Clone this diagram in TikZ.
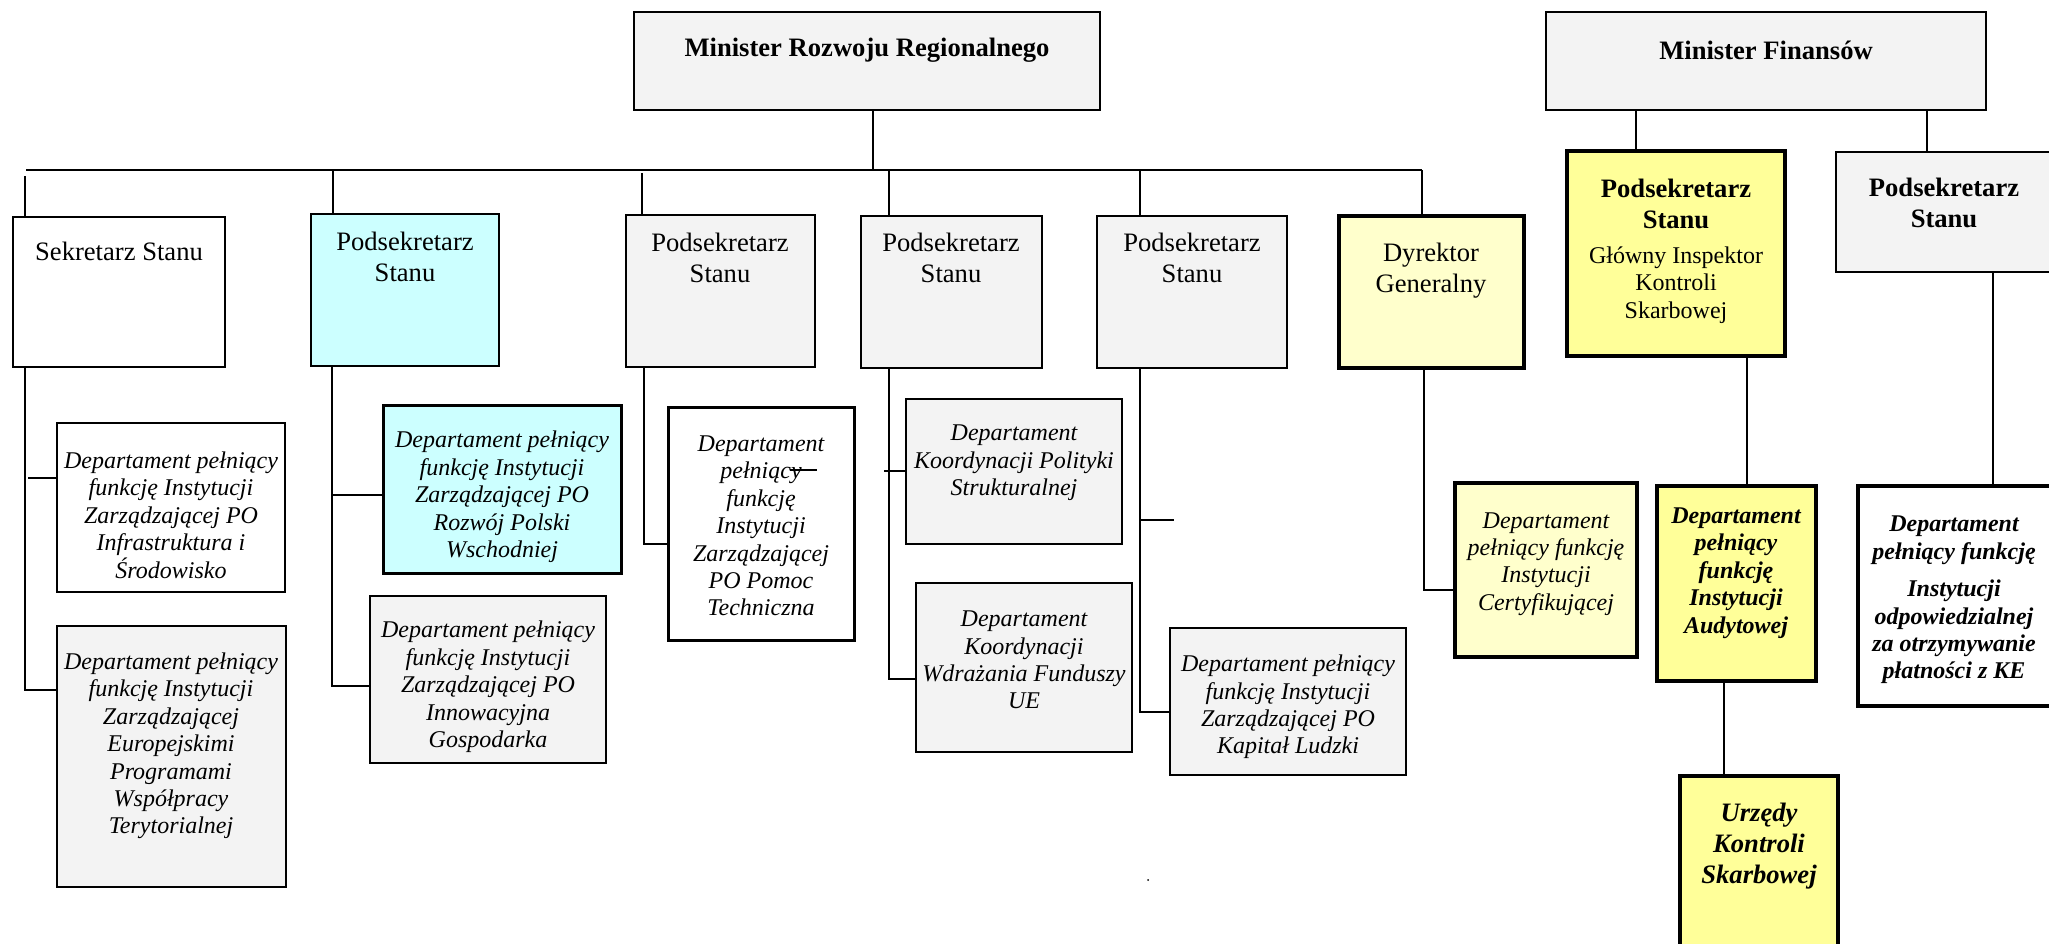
\documentclass[tikz,border=0pt]{standalone}
\usepackage{fontspec}
\setmainfont{Liberation Serif}
\usetikzlibrary{fit}
\definecolor{gfill}{RGB}{243,243,243}
\definecolor{cyanfill}{RGB}{204,255,255}
\definecolor{lyel}{RGB}{255,255,204}
\definecolor{yel}{RGB}{255,255,153}
\newcommand\fbig{\fontsize{13.3}{15.5}\selectfont}
\newcommand\fsm{\fontsize{12}{13.7}\selectfont}
\begin{document}
\begin{tikzpicture}[x=0.5pt,y=-0.5pt,
  box/.style={draw, line width=1.1pt, inner sep=0pt, outer sep=0pt},
  thickbox/.style={box, line width=2.3pt},
  midbox/.style={box, line width=1.5pt},
  txt/.style={align=center, inner sep=0pt},
  conn/.style={line width=1pt},
]
\useasboundingbox (0,0) rectangle (2049,943);
\clip (0,0) rectangle (2049,943);
\fill[white] (0,0) rectangle (2049,943);

% ---- boxes ----
\node[box, fill=gfill, fit={(634,12) (1100,110)}] (mrr) {};
\node[box, fill=gfill, fit={(1546,12) (1986,110)}] (mf) {};
\node[box, fill=white, fit={(13,217) (225,367)}] (sek) {};
\node[box, fill=cyanfill, fit={(311,214) (499,366)}] (ps1) {};
\node[box, fill=gfill, fit={(626,215) (815,367)}] (ps2) {};
\node[box, fill=gfill, fit={(861,216) (1042,368)}] (ps3) {};
\node[box, fill=gfill, fit={(1097,216) (1287,368)}] (ps4) {};
\node[thickbox, fill=lyel, fit={(1339,216) (1524,368)}] (dyr) {};
\node[thickbox, fill=yel, fit={(1567,151) (1785,356)}] (giks) {};
\node[box, fill=gfill, fit={(1836,152) (2056,272)}] (psf) {};

\node[box, fill=white, fit={(57,423) (285,592)}] (iis) {};
\node[box, fill=gfill, fit={(57,626) (286,887)}] (epwt) {};
\node[midbox, fill=cyanfill, fit={(383,405) (621,573)}] (rpw) {};
\node[box, fill=gfill, fit={(370,596) (606,763)}] (ig) {};
\node[midbox, fill=white, fit={(668,407) (854,640)}] (pt) {};
\node[box, fill=gfill, fit={(906,399) (1122,544)}] (kps) {};
\node[box, fill=gfill, fit={(916,583) (1132,752)}] (kwf) {};
\node[box, fill=gfill, fit={(1170,628) (1406,775)}] (kl) {};
\node[thickbox, fill=lyel, fit={(1455,483) (1637,657)}] (cert) {};
\node[thickbox, fill=yel, fit={(1657,486) (1816,681)}] (aud) {};
\node[thickbox, fill=yel, fit={(1680,776) (1838,965)}] (urz) {};
\node[thickbox, fill=white, fit={(1858,486) (2056,706)}] (plat) {};

% ---- texts ----
\node[txt, font=\fbig\bfseries] (mrr-t) at (867,50) {Minister Rozwoju Regionalnego};
\node[txt, font=\fbig\bfseries] (mf-t) at (1766,50) {Minister Finansów};
\node[txt, font=\fbig] (sek-t) at (119,251) {Sekretarz Stanu};
\node[txt, font=\fbig] (ps1-t) at (405,257) {Podsekretarz\\Stanu};
\node[txt, font=\fbig] (ps2-t) at (720,258) {Podsekretarz\\Stanu};
\node[txt, font=\fbig] (ps3-t) at (951,258) {Podsekretarz\\Stanu};
\node[txt, font=\fbig] (ps4-t) at (1192,258) {Podsekretarz\\Stanu};
\node[txt, font=\fbig] (dyr-t) at (1431,271) {Dyrektor\\Generalny};
\node[txt, font=\fbig\bfseries] (giks-t1) at (1676,204) {Podsekretarz\\Stanu};
\node[txt, font=\fsm] (giks-t2) at (1676,285) {Główny Inspektor\\Kontroli\\Skarbowej};
\node[txt, font=\fbig\bfseries] (psf-t) at (1944,203) {Podsekretarz\\Stanu};

\node[txt, font=\fsm\itshape] (iis-t) at (171,515) {Departament pełniący\\funkcję Instytucji\\Zarządzającej PO\\Infrastruktura i\\Środowisko};
\node[txt, font=\fsm\itshape] (epwt-t) at (171,746) {Departament pełniący\\funkcję Instytucji\\Zarządzającej\\Europejskimi\\Programami\\Współpracy\\Terytorialnej};
\node[txt, font=\fsm\itshape] (rpw-t) at (502,497) {Departament pełniący\\funkcję Instytucji\\Zarządzającej PO\\Rozwój Polski\\Wschodniej};
\node[txt, font=\fsm\itshape] (ig-t) at (488,687) {Departament pełniący\\funkcję Instytucji\\Zarządzającej PO\\Innowacyjna\\Gospodarka};
\node[txt, font=\fsm\itshape] (pt-t) at (761,526) {Departament\\pełniący\\funkcję\\Instytucji\\Zarządzającej\\PO Pomoc\\Techniczna};
\node[txt, font=\fsm\itshape] (kps-t) at (1014,463) {Departament\\Koordynacji Polityki\\Strukturalnej};
\node[txt, font=\fsm\itshape] (kwf-t) at (1024,660) {Departament\\Koordynacji\\Wdrażania Funduszy\\UE};
\node[txt, font=\fsm\itshape] (kl-t) at (1288,707) {Departament pełniący\\funkcję Instytucji\\Zarządzającej PO\\Kapitał Ludzki};
\node[txt, font=\fsm\itshape] (cert-t) at (1546,564) {Departament\\pełniący funkcję\\Instytucji\\Certyfikującej};
\node[txt, font=\fsm\bfseries\itshape] (aud-t) at (1736,573) {Departament\\pełniący\\funkcję\\Instytucji\\Audytowej};
\node[txt, font=\fsm\bfseries\itshape] (plat-t) at (1954,600) {Departament\\pełniący funkcję\\[5pt]Instytucji\\odpowiedzialnej\\za otrzymywanie\\płatności z KE};
\node[txt, font=\fbig\bfseries\itshape] (urz-t) at (1759,846) {Urzędy\\Kontroli\\Skarbowej};

% ---- connectors ----
\coordinate (barL) at (26,170);
\coordinate (barR) at (1422,170);
\coordinate (top) at (873,170);
\draw[conn] (barL) -- (barR);
\draw[conn] (top |- mrr.south) -- (top);
\coordinate (d1) at (25,176);
\coordinate (d2) at (333,170);
\coordinate (d3) at (642,173);
\coordinate (d4) at (889,170);
\coordinate (d5) at (1140,170);
\draw[conn] (d1) -- (d1 |- sek.north);
\draw[conn] (d2) -- (d2 |- ps1.north);
\draw[conn] (d3) -- (d3 |- ps2.north);
\draw[conn] (d4) -- (d4 |- ps3.north);
\draw[conn] (d5) -- (d5 |- ps4.north);
\draw[conn] (barR) -- (barR |- dyr.north);

\coordinate (f1) at (1636,110);
\coordinate (f2) at (1927,110);
\draw[conn] (f1) -- (f1 |- giks.north);
\draw[conn] (f2) -- (f2 |- psf.north);

% Sekretarz
\coordinate (s1) at (25,690);
\coordinate (b1) at (28,478);
\draw[conn] (sek.south -| s1) -- (s1) -- (s1 -| epwt.west);
\draw[conn] (b1) -- (b1 -| iis.west);
% Podsekretarz 1
\coordinate (s2) at (332,686);
\coordinate (b2) at (332,495);
\draw[conn] (ps1.south -| s2) -- (s2) -- (s2 -| ig.west);
\draw[conn] (b2) -- (b2 -| rpw.west);
% Podsekretarz 2
\coordinate (s3) at (644,544);
\draw[conn] (ps2.south -| s3) -- (s3) -- (s3 -| pt.west);
\coordinate (st1) at (790,470);
\coordinate (st2) at (817,470);
\draw[conn] (st1) -- (st2);
% Podsekretarz 3
\coordinate (s4) at (889,679);
\coordinate (b4) at (884,471);
\draw[conn] (ps3.south -| s4) -- (s4) -- (s4 -| kwf.west);
\draw[conn] (b4) -- (b4 -| kps.west);
% Podsekretarz 4
\coordinate (s5) at (1140,712);
\coordinate (b5) at (1140,520);
\coordinate (e5) at (1174,520);
\draw[conn] (ps4.south -| s5) -- (s5) -- (s5 -| kl.west);
\draw[conn] (b5) -- (e5);
% Dyrektor
\coordinate (s6) at (1424,590);
\draw[conn] (dyr.south -| s6) -- (s6) -- (s6 -| cert.west);
% Finanse
\coordinate (c1) at (1747,356);
\coordinate (c2) at (1724,681);
\coordinate (c3) at (1993,272);
\draw[conn] (giks.south -| c1) -- (aud.north -| c1);
\draw[conn] (aud.south -| c2) -- (urz.north -| c2);
\draw[conn] (psf.south -| c3) -- (plat.north -| c3);

\fill (1148,880) circle (1);
\end{tikzpicture}
\end{document}
